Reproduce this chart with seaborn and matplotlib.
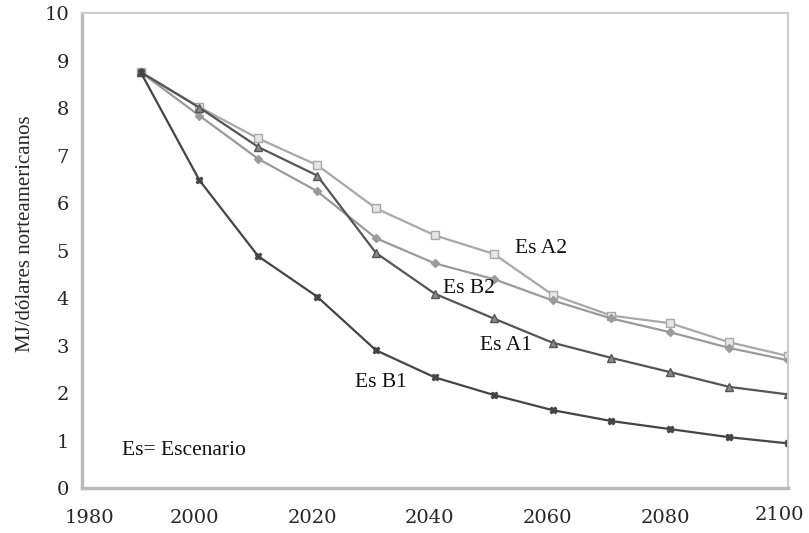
import pandas as pd
import matplotlib
matplotlib.use("Agg")
import matplotlib.pyplot as plt
import matplotlib.transforms as mtransforms
import seaborn as sns

# Datos
years = [1990, 2000, 2010, 2020, 2030, 2040, 2050, 2060, 2070, 2080, 2090, 2100]
es_a2 = [8.76, 8.02, 7.36, 6.80, 5.89, 5.32, 4.93, 4.07, 3.63, 3.47, 3.07, 2.78]
es_b2 = [8.76, 7.84, 6.93, 6.25, 5.26, 4.73, 4.40, 3.95, 3.57, 3.28, 2.95, 2.69]
es_a1 = [8.76, 8.01, 7.18, 6.58, 4.95, 4.09, 3.57, 3.06, 2.74, 2.44, 2.13, 1.97]
es_b1 = [8.76, 6.48, 4.88, 4.03, 2.90, 2.33, 1.96, 1.64, 1.41, 1.24, 1.07, 0.94]

series_names = ["Es A2", "Es B2", "Es A1", "Es B1"]
series_colors = ["#a8a8a8", "#9a9a9a", "#555555", "#454545"]
series_markers = ["s", "D", "^", "X"]
marker_faces = ["#e6e6e6", "#9a9a9a", "#8a8a8a", "#454545"]
marker_sizes = [6, 4, 6, 5]

x_ticks = [1980, 2000, 2020, 2040, 2060, 2080, 2100]
y_ticks = list(range(0, 11))

df = pd.DataFrame({"year": years, "Es A2": es_a2, "Es B2": es_b2,
                   "Es A1": es_a1, "Es B1": es_b1})
long_df = df.melt(id_vars="year", var_name="escenario", value_name="valor")

sns.set_style("white")
plt.rcParams["font.family"] = ["DejaVu Serif"]

fig = plt.figure(figsize=(8.09, 5.33), dpi=100)
ax = fig.add_axes([0.101, 0.0844, 0.873, 0.891])

for name, col, mk, fc, ms in zip(series_names, series_colors, series_markers,
                                 marker_faces, marker_sizes):
    sub = long_df[long_df["escenario"] == name]
    sns.lineplot(data=sub, x="year", y="valor", ax=ax, color=col,
                 linewidth=1.6, marker=mk, markersize=ms,
                 markerfacecolor=fc, markeredgecolor=col, markeredgewidth=1.0,
                 legend=False)

ax.set_xlim(1980, 2100)
ax.set_ylim(0, 10)
ax.set_xticks(x_ticks)
ax.set_yticks(y_ticks)
ax.tick_params(axis="both", labelsize=14, length=3, color="#bbbbbb",
               direction="out", width=1)
ax.tick_params(axis="x", pad=12)
ax.tick_params(axis="y", pad=6)
ax.set_xlabel("")
ax.set_ylabel("MJ/dólares norteamericanos", family="Liberation Serif",
              fontsize=15)
ax.yaxis.set_label_coords(-0.066, 0.535)

# desplazar un poco las etiquetas del eje x como en el original
fig.canvas.draw()
shifts = {0: (8, 0), 6: (-9, 3)}
for i, lab in enumerate(ax.get_xticklabels()):
    dx, dy = shifts.get(i, (-5, 0))
    off = mtransforms.ScaledTranslation(dx / 100, dy / 100, fig.dpi_scale_trans)
    lab.set_transform(lab.get_transform() + off)

for side in ["top", "right"]:
    ax.spines[side].set_color("#cccccc")
    ax.spines[side].set_linewidth(1.5)
for side in ["left", "bottom"]:
    ax.spines[side].set_color("#bbbbbb")
    ax.spines[side].set_linewidth(2.5)
ax.grid(False)

# Etiquetas de escenarios
txt = dict(family="Liberation Serif", fontsize=15.5, color="#111111")
ax.text(2053.6, 5.05, "Es A2", ha="left", va="center", **txt)
ax.text(2041.4, 4.21, "Es B2", ha="left", va="center", **txt)
ax.text(2047.7, 3.01, "Es A1", ha="left", va="center", **txt)
ax.text(2026.4, 2.23, "Es B1", ha="left", va="center", **txt)
ax.text(1986.8, 0.8, "Es= Escenario", ha="left", va="center", **txt)

fig.savefig("out.png", dpi=100)
